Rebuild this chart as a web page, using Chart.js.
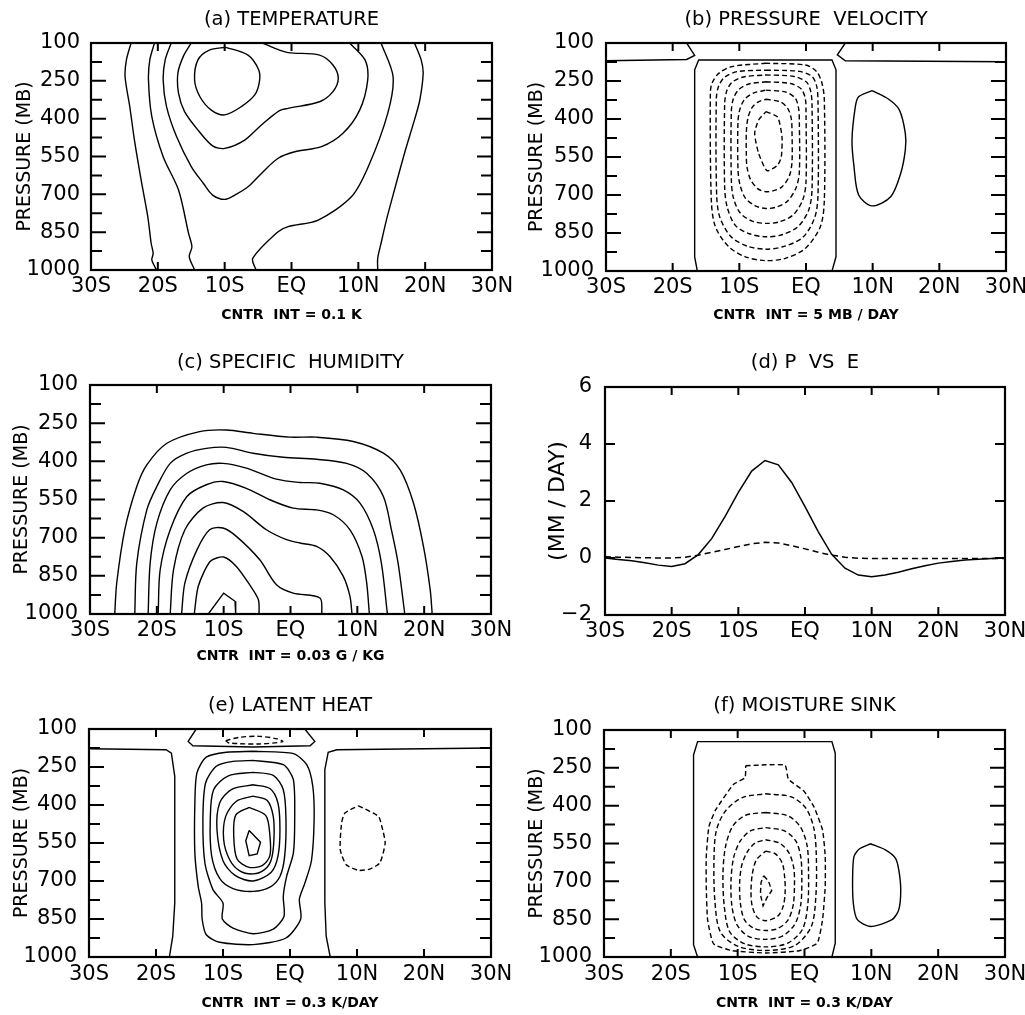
<!DOCTYPE html>
<html>
<head>
<meta charset="utf-8">
<title>Response to tropical heating</title>
<script src="https://cdn.jsdelivr.net/npm/chart.js@4.4.1/dist/chart.umd.min.js"></script>
<style>
    html, body { margin: 0; padding: 0; background: #fff; }
    #page { position: relative; width: 1025px; height: 1015px; background: #fff; overflow: hidden; }
    #page canvas { position: absolute; }
</style>
</head>
<body>
<div id="page">
    <canvas id="panelA" width="512" height="330" style="left:0;top:0"></canvas>
    <canvas id="panelB" width="513" height="330" style="left:512px;top:0"></canvas>
    <canvas id="panelC" width="512" height="340" style="left:0;top:330px"></canvas>
    <canvas id="panelD" width="513" height="340" style="left:512px;top:330px"></canvas>
    <canvas id="panelE" width="512" height="345" style="left:0;top:670px"></canvas>
    <canvas id="panelF" width="513" height="345" style="left:512px;top:670px"></canvas>
</div>
<script>
// ---- axes ----
const latTicks = [-30, -20, -10, 0, 10, 20, 30];
const latLabels = ['30S', '20S', '10S', 'EQ', '10N', '20N', '30N'];
const pressureTicks = [100, 250, 400, 550, 700, 850, 1000];
const pressureLabels = ['100', '250', '400', '550', '700', '850', '1000'];
const pressureMinor = [175, 325, 475, 625, 775, 925];
const peTicks = [-2, 0, 2, 4, 6];
const peLabels = ['\u22122', '0', '2', '4', '6'];

// ---- (a) temperature, contours as [lat, pressure] ----
const tempC1 = [[-24.0,100],[-24.7,167],[-24.9,234],[-24.2,352],[-23.5,485],[-22.5,643],[-21.5,789],[-21.0,894],[-20.7,934],[-20.9,960],[-20.2,1000]];
const tempC2 = [[-20.5,100],[-21.2,167],[-21.4,247],[-20.9,392],[-19.2,551],[-16.9,683],[-15.4,855],[-14.9,908],[-15.3,947],[-14.5,1000]];
const tempC3 = [[-18.0,100],[-18.9,167],[-19.2,247],[-18.7,352],[-17.2,471],[-15.0,590],[-13.2,656],[-11.8,703],[-10.0,720],[-8.5,703],[-6.5,670],[-4.5,617],[-2.0,557],[0.5,531],[4.5,511],[7.7,458],[10.2,366],[11.4,247],[11.0,167],[8.7,100]];
const tempC4 = [[-15.0,100],[-16.2,154],[-17.0,220],[-16.9,300],[-16.0,372],[-14.0,445],[-11.8,508],[-10.0,518],[-7.0,485],[-4.5,425],[-1.8,368],[-0.5,359],[4.2,333],[6.2,293],[7.0,240],[6.2,187],[4.2,148],[-0.5,138],[-2.5,121],[-4.3,100]];
const tempC5 = [[-9.8,117],[-6.5,148],[-4.9,207],[-4.8,253],[-5.5,306],[-7.5,352],[-10.0,385],[-12.0,366],[-13.7,313],[-14.5,247],[-14.0,167],[-12.3,128],[-9.8,117]];
const tempC6 = [[13.4,100],[15.2,234],[14.4,379],[11.5,590],[9.0,709],[4.0,802],[-0.5,828],[-2.0,848],[-5.8,954],[-5.3,1000]];
const tempC7 = [[18.4,100],[19.4,167],[19.7,220],[19.2,326],[18.4,405],[16.9,538],[15.4,683],[14.2,802],[13.4,894],[12.9,954],[12.9,1000]];

// ---- (b) pressure velocity ----
const omegaLeft = [[-30,170],[-17.9,165],[-16.7,149],[-17.9,100]];
const omegaRight = [[5.9,100],[4.7,147],[5.9,170],[30,174]];
const omegaBox = [[-16.3,1000],[-16.7,944],[-16.7,206],[-16.1,167],[3.9,167],[4.5,206],[4.5,944],[3.9,1000]];
const omegaUp = [[9.9,288],[12.4,322],[14.0,364],[14.9,457],[14.9,522],[14.2,615],[12.7,707],[9.9,743],[7.9,700],[7.2,588],[6.9,483],[7.4,351],[7.9,312],[9.9,288]];
const omegaDown1 = [[-6.1,180],[-0.1,187],[1.6,213],[2.4,259],[2.75,325],[2.75,720],[2.15,825],[-0.1,911],[-3.1,950],[-6.1,959],[-9.1,944],[-11.6,904],[-13.6,825],[-14.2,720],[-14.35,299],[-14.1,259],[-13.1,220],[-11.1,193],[-6.1,180]];
const omegaDown2 = [[-6,207],[-1,212],[0.9,232],[1.6,270],[1.8,330],[1.8,700],[1.3,790],[-0.5,868],[-3.3,903],[-6,914],[-8.8,902],[-11.2,866],[-12.9,790],[-13.4,700],[-13.45,320],[-13.1,270],[-12.2,235],[-10.3,213],[-6,207]];
const omegaDown3 = [[-6,226],[-1.8,232],[0.1,255],[0.7,290],[0.9,340],[0.9,680],[0.4,760],[-1.2,825],[-3.6,857],[-6,865],[-8.5,853],[-10.6,820],[-11.8,750],[-12.2,670],[-12.2,340],[-11.9,290],[-11.1,255],[-9.4,234],[-6,226]];
const omegaDown4 = [[-6,253],[-2.3,260],[-0.7,282],[-0.1,320],[0,370],[0,650],[-0.5,720],[-1.9,778],[-4,806],[-6,812],[-8.1,803],[-9.9,770],[-10.9,710],[-11.2,640],[-11.2,370],[-10.9,320],[-10.1,284],[-8.6,262],[-6,253]];
const omegaDown5 = [[-6,286],[-3,294],[-1.6,318],[-1.1,360],[-1,410],[-1,610],[-1.5,672],[-2.8,725],[-4.5,748],[-6,753],[-7.6,743],[-9.1,712],[-9.9,660],[-10.2,600],[-10.2,410],[-9.9,360],[-9.2,322],[-7.9,298],[-6,286]];
const omegaDown6 = [[-6,322],[-3.8,333],[-2.7,360],[-2.2,400],[-2.1,450],[-2.1,570],[-2.5,625],[-3.6,668],[-5,684],[-6,687],[-7.2,676],[-8.3,640],[-8.85,590],[-8.95,540],[-8.95,450],[-8.7,395],[-8.1,355],[-7.2,333],[-6,322]];
const omegaDown7 = [[-6,371],[-4.25,393],[-3.6,470],[-3.7,549],[-4.25,582],[-5.85,604],[-7.1,536],[-7.7,457],[-7.1,404],[-6,371]];

// ---- (c) specific humidity ----
const qC1 = [[-26.3,1000],[-26.0,878],[-24.8,669],[-23.0,499],[-21.5,414],[-18.5,329],[-13.6,283],[-9.6,277],[-5.6,290],[-0.1,305],[3.9,305],[9.4,322],[13.9,368],[16.4,434],[18.4,564],[19.9,735],[20.9,904],[21.2,1000]];
const qC2 = [[-23.3,1000],[-23.0,800],[-21.5,591],[-20.0,499],[-18.0,408],[-15.5,368],[-12.6,349],[-9.6,345],[-5.6,368],[-1.1,384],[3.9,392],[8.4,408],[11.4,447],[13.9,538],[15.1,669],[16.1,800],[17.1,1000]];
const qC3 = [[-21.3,1000],[-21.0,800],[-20.0,643],[-18.0,512],[-15.5,447],[-12.6,414],[-10.1,408],[-6.6,427],[-2.1,470],[1.4,483],[4.4,486],[7.9,512],[10.4,564],[12.4,669],[13.6,800],[14.5,1000]];
const qC4 = [[-19.8,1000],[-19.5,826],[-18.0,669],[-15.5,538],[-12.6,492],[-10.1,479],[-6.6,506],[-3.1,551],[0.4,584],[3.9,591],[6.4,610],[8.9,669],[10.7,774],[11.4,878],[11.8,1000]];
const qC5 = [[-18.0,1000],[-17.5,826],[-15.8,669],[-13.1,584],[-10.1,562],[-7.1,597],[-3.6,669],[-0.6,708],[1.4,721],[3.9,734],[5.9,774],[7.9,852],[8.9,931],[9.2,1000]];
const qC6 = [[-16.3,1000],[-15.8,878],[-14.0,748],[-12.1,669],[-10.1,662],[-8.1,695],[-4.6,787],[-2.1,885],[0.4,918],[4.4,937],[4.7,1000]];
const qC7 = [[-14.4,1000],[-13.8,891],[-12.0,793],[-10.0,776],[-8.1,813],[-6.3,878],[-4.8,944],[-4.7,1000]];
const qC8 = [[-12.3,1000],[-10.0,918],[-8.3,950],[-8.2,1000]];

// ---- (d) P vs E, mm/day every 2 degrees ----
const peLats = [-30,-28,-26,-24,-22,-20,-18,-16,-14,-12,-10,-8,-6,-4,-2,0,2,4,6,8,10,12,14,16,18,20,22,24,26,28,30];
const precip = [0.0,-0.05,-0.1,-0.17,-0.25,-0.3,-0.2,0.12,0.68,1.45,2.3,3.05,3.42,3.27,2.65,1.8,0.92,0.13,-0.36,-0.6,-0.66,-0.6,-0.5,-0.38,-0.27,-0.18,-0.12,-0.07,-0.04,-0.02,0.0];
const evap = [0.04,0.03,0.02,0.01,0.0,0.0,0.03,0.1,0.2,0.3,0.4,0.5,0.55,0.53,0.43,0.32,0.2,0.1,0.03,-0.01,-0.02,-0.02,-0.02,-0.02,-0.02,-0.02,-0.02,-0.02,-0.02,-0.02,-0.02];

// ---- (e) latent heat ----
const heatLeft = [[-30,178],[-18.5,182],[-17.7,195],[-17.2,287],[-17.2,787],[-17.5,918],[-18,1000]];
const heatRight = [[6,1000],[5.4,918],[5.2,787],[5.2,260],[5.7,192],[7,182],[30,175]];
const heatTop = [[-14,100],[-15.2,149],[-14.5,166],[-5.5,171],[3,166],[3.7,149],[2.2,100]];
const heatTopCool = [[-9.6,146],[-7.6,133],[-4.6,129],[-1.9,139],[-1.1,150],[-4.6,159],[-9.1,155],[-9.6,146]];
const heatRing1 = [[-5.5,188],[0.5,197],[2.5,241],[3.4,326],[3.6,458],[3.2,620],[2.2,710],[1.4,771],[1.6,850],[-0.6,925],[-5.5,951],[-10.5,942],[-12.5,912],[-13.1,853],[-13.2,787],[-13.7,721],[-14.2,590],[-14.2,392],[-13.9,274],[-12.5,211],[-9.5,192],[-5.5,188]];
const heatRing2 = [[-5.5,224],[-1,241],[0.5,300],[0.7,458],[0.5,590],[-0.5,682],[-1,760],[-0.9,840],[-2.5,890],[-5.5,908],[-8.5,886],[-10.1,850],[-10,787],[-11.5,734],[-12.7,629],[-13,458],[-12.6,313],[-11,247],[-8.5,228],[-5.5,224]];
const heatRing3 = [[-5.5,271],[-2.5,283],[-1,340],[-0.6,458],[-0.8,603],[-1.5,682],[-3,724],[-5.5,741],[-8.5,730],[-10.5,690],[-11.7,600],[-11.9,458],[-11.4,340],[-9.2,285],[-5.5,271]];
const heatRing4 = [[-5.5,320],[-3,335],[-1.8,392],[-1.5,497],[-1.8,603],[-2.8,665],[-5.5,700],[-8.2,678],[-10,620],[-10.9,497],[-10.5,392],[-8.7,338],[-5.5,320]];
const heatRing5 = [[-5.5,365],[-3.4,382],[-2.5,445],[-2.4,537],[-2.8,616],[-3.8,655],[-5.5,672],[-7.5,660],[-9,616],[-9.9,537],[-9.6,445],[-8,385],[-5.5,365]];
const heatRing6 = [[-6.1,409],[-3.6,442],[-3,521],[-3,600],[-4.1,638],[-6.1,646],[-7.9,613],[-8.4,521],[-8.1,440],[-6.1,409]];
const heatCore = [[-6.1,501],[-4.4,547],[-4.9,593],[-6.1,600],[-6.6,541],[-6.1,501]];
const heatCool = [[10.2,403],[13.2,445],[13.7,484],[14.2,550],[13.4,629],[11.9,653],[10.2,658],[8.4,636],[7.5,576],[7.7,471],[8.2,432],[10.2,403]];

// ---- (f) moisture sink ----
const sinkBox = [[-16,1000],[-16.6,951],[-16.6,199],[-16,146],[4.1,146],[4.6,192],[4.6,945],[4.1,1000]];
const sinkWet = [[9.9,551],[12.1,575],[13.6,608],[14.1,654],[14.4,733],[14.1,813],[13.1,852],[9.9,879],[7.9,852],[7.3,786],[7.2,681],[7.4,602],[8.2,572],[9.9,551]];
const sinkRing1 = [[-8.8,242],[-5.8,238],[-2.9,240],[-2.4,295],[-0.1,342],[1.4,404],[2.7,496],[3.1,602],[3.1,720],[2.7,852],[1.9,945],[-0.8,975],[-5.8,984],[-10.8,975],[-13.6,948],[-14.5,852],[-14.7,720],[-14.7,602],[-14.3,483],[-13.3,417],[-10.6,315],[-8.9,289],[-8.8,242]];
const sinkRing2 = [[-5.8,353],[-2,365],[0.2,410],[1.4,490],[1.77,600],[1.7,760],[1.0,880],[-1.5,955],[-5.8,974],[-10,957],[-12.6,900],[-13.4,780],[-13.55,620],[-13.2,500],[-11.8,420],[-9.3,368],[-5.8,353]];
const sinkRing3 = [[-5.8,427],[-2.5,440],[-0.6,485],[0.4,560],[0.6,660],[0.5,790],[-0.3,890],[-2.5,945],[-5.8,960],[-9,947],[-11.2,900],[-12,800],[-12.2,670],[-11.8,560],[-10.7,480],[-8.8,438],[-5.8,427]];
const sinkRing4 = [[-5.8,487],[-3,500],[-1.3,540],[-0.55,605],[-0.4,690],[-0.55,790],[-1.4,868],[-3.3,917],[-5.8,930],[-8.4,918],[-10.1,872],[-10.85,800],[-11,700],[-10.6,605],[-9.6,540],[-8.1,500],[-5.8,487]];
const sinkRing5 = [[-5.8,535],[-3.7,549],[-2.3,588],[-1.6,648],[-1.5,715],[-1.7,795],[-2.5,855],[-4,887],[-5.8,895],[-7.6,886],[-9,852],[-9.6,785],[-9.7,705],[-9.4,638],[-8.6,585],[-7.4,548],[-5.8,535]];
const sinkRing6 = [[-5.8,580],[-4.3,592],[-3.3,630],[-2.95,690],[-2.9,745],[-3.2,800],[-4,838],[-5.8,856],[-7.1,842],[-7.85,795],[-8,735],[-7.8,670],[-7.2,615],[-5.8,580]];
const sinkCore = [[-6.1,678],[-5.4,698],[-4.9,737],[-5.6,764],[-6.2,797],[-6.6,751],[-6.5,704],[-6.1,678]];

const FONT = 'DejaVu Sans';
Chart.defaults.font.family = FONT;
Chart.defaults.color = '#000';

// Frame plus inward tick marks, GrADS style
const frameTicks = {
    id: 'frameTicks',
    afterDatasetsDraw(chart, args, opts) {
        const { ctx, chartArea: a, scales: { x, y } } = chart;
        ctx.save();
        ctx.strokeStyle = '#000';
        ctx.lineWidth = 2;
        ctx.beginPath();
        opts.xMarks.forEach(v => {
            const px = x.getPixelForValue(v);
            ctx.moveTo(px, a.bottom); ctx.lineTo(px, a.bottom - opts.xLen);
            ctx.moveTo(px, a.top); ctx.lineTo(px, a.top + opts.xLen);
        });
        opts.yMajor.forEach(v => {
            const py = y.getPixelForValue(v);
            ctx.moveTo(a.left, py); ctx.lineTo(a.left + opts.majorLen, py);
            ctx.moveTo(a.right, py); ctx.lineTo(a.right - opts.majorLen, py);
        });
        opts.yMinor.forEach(v => {
            const py = y.getPixelForValue(v);
            ctx.moveTo(a.left, py); ctx.lineTo(a.left + opts.minorLen, py);
            ctx.moveTo(a.right, py); ctx.lineTo(a.right - opts.minorLen, py);
        });
        ctx.stroke();
        ctx.lineWidth = 2.2;
        ctx.strokeRect(a.left, a.top, a.right - a.left, a.bottom - a.top);
        ctx.restore();
    }
};

function contour(points, dashed, tension) {
    return {
        data: points.map(([lat, p]) => ({ x: lat, y: p })),
        showLine: true,
        pointRadius: 0,
        pointHoverRadius: 0,
        borderColor: '#000',
        borderWidth: 1.4,
        borderDash: dashed ? [5, 3] : [],
        tension: tension,
        fill: false
    };
}

function series(values, dashed) {
    return {
        data: peLats.map((lat, i) => ({ x: lat, y: values[i] })),
        showLine: true,
        pointRadius: 0,
        borderColor: '#000',
        borderWidth: 1.5,
        borderDash: dashed ? [6, 4] : [],
        tension: 0,
        fill: false
    };
}

// One panel; L holds the layout numbers that pin the plot area
function makePanel(id, L, spec) {
    return new Chart(document.getElementById(id), {
        type: 'scatter',
        data: { datasets: spec.datasets },
        plugins: [frameTicks],
        options: {
            responsive: false,
            animation: false,
            events: [],
            layout: { padding: { left: 0, top: 0, right: L.padRight, bottom: L.padBottom || 0 } },
            plugins: {
                legend: { display: false },
                tooltip: { enabled: false },
                title: {
                    display: true, text: spec.title, color: '#000', fullSize: false,
                    font: { family: FONT, size: 19.5, weight: 'normal', lineHeight: 1.2 },
                    padding: { top: L.titleTop, bottom: L.titleBottom }
                },
                subtitle: {
                    display: !!spec.note, text: spec.note || '', position: 'bottom', color: '#000', fullSize: false,
                    font: { family: FONT, size: 14, weight: 'bold', lineHeight: 1.2 },
                    padding: { top: L.noteTop || 0, bottom: L.noteBottom || 0 }
                },
                frameTicks: {
                    xMarks: latTicks.slice(1, -1),
                    yMajor: spec.yTicks.slice(1, -1),
                    yMinor: spec.yMinor,
                    xLen: 8,
                    majorLen: spec.majorLen,
                    minorLen: 11
                }
            },
            scales: {
                x: {
                    type: 'linear', min: -30, max: 30,
                    afterBuildTicks: s => { s.ticks = latTicks.map(v => ({ value: v })); },
                    afterFit: s => { s.height = 30; s.paddingLeft = 0; s.paddingRight = 0; },
                    grid: { display: false, drawTicks: false },
                    border: { display: false },
                    ticks: {
                        color: '#000', padding: L.xTickPad, maxRotation: 0, autoSkip: false,
                        font: { family: FONT, size: 21 },
                        callback: (v, i) => latLabels[i]
                    }
                },
                y: {
                    type: 'linear', min: spec.yMin, max: spec.yMax, reverse: spec.reverse,
                    afterBuildTicks: s => { s.ticks = spec.yTicks.map(v => ({ value: v })); },
                    afterFit: s => { s.width = L.yWidth; s.paddingTop = 0; s.paddingBottom = 0; },
                    grid: { display: false, drawTicks: false },
                    border: { display: false },
                    ticks: {
                        color: '#000', padding: L.yTickPad, autoSkip: false,
                        font: { family: FONT, size: 21 },
                        callback: (v, i) => spec.yLabels[i]
                    },
                    title: {
                        display: true, text: spec.yTitle, color: '#000',
                        font: { family: FONT, size: spec.yTitleSize || 19, lineHeight: 1.2 },
                        padding: { top: L.yTitlePad, bottom: 0 }
                    }
                }
            }
        }
    });
}

function pressureSpec(title, note, datasets) {
    return {
        title, note, datasets,
        yMin: 100, yMax: 1000, reverse: true,
        yTicks: pressureTicks, yLabels: pressureLabels, yMinor: pressureMinor,
        yTitle: 'PRESSURE (MB)', majorLen: 15
    };
}

makePanel('panelA',
    { padRight: 20, yWidth: 91, yTickPad: 11, yTitlePad: 13.6, titleTop: 8.3, titleBottom: 11.3, xTickPad: 4.4, noteTop: 6.6, noteBottom: 6.6 },
    pressureSpec('(a) TEMPERATURE', 'CNTR  INT = 0.1 K', [
        contour(tempC1, false, 0.3), contour(tempC2, false, 0.3), contour(tempC3, false, 0.3),
        contour(tempC4, false, 0.3), contour(tempC5, false, 0.3), contour(tempC6, false, 0.3),
        contour(tempC7, false, 0.3)
    ]));

makePanel('panelB',
    { padRight: 19, yWidth: 94, yTickPad: 12, yTitlePad: 13.6, titleTop: 8.3, titleBottom: 11.3, xTickPad: 4.4, noteTop: 5.6, noteBottom: 6.6 },
    pressureSpec('(b) PRESSURE  VELOCITY', 'CNTR  INT = 5 MB / DAY', [
        contour(omegaLeft, false, 0), contour(omegaRight, false, 0), contour(omegaBox, false, 0),
        contour(omegaUp, false, 0.3),
        contour(omegaDown1, true, 0.3), contour(omegaDown2, true, 0.3), contour(omegaDown3, true, 0.3),
        contour(omegaDown4, true, 0.3), contour(omegaDown5, true, 0.3), contour(omegaDown6, true, 0.3),
        contour(omegaDown7, true, 0.2)
    ]));

makePanel('panelC',
    { padRight: 21, yWidth: 90, yTickPad: 12, yTitlePad: 10.3, titleTop: 21.6, titleBottom: 10, xTickPad: 4.4, noteTop: 3.6, noteBottom: 5.6 },
    pressureSpec('(c) SPECIFIC  HUMIDITY', 'CNTR  INT = 0.03 G / KG', [
        contour(qC1, false, 0.3), contour(qC2, false, 0.3), contour(qC3, false, 0.3), contour(qC4, false, 0.3),
        contour(qC5, false, 0.3), contour(qC6, false, 0.3), contour(qC7, false, 0.25), contour(qC8, false, 0)
    ]));

makePanel('panelD',
    { padRight: 20, padBottom: 25, yWidth: 93, yTickPad: 13, yTitlePad: 33.5, titleTop: 21.6, titleBottom: 12, xTickPad: 4.4 },
    {
        title: '(d) P  VS  E', note: '', datasets: [series(precip, false), series(evap, true)],
        yMin: -2, yMax: 6, reverse: false,
        yTicks: peTicks, yLabels: peLabels, yMinor: [],
        yTitle: '(MM / DAY)', yTitleSize: 22, majorLen: 10
    });

makePanel('panelE',
    { padRight: 21, yWidth: 89, yTickPad: 12, yTitlePad: 10.3, titleTop: 24.3, titleBottom: 11.3, xTickPad: 5.4, noteTop: 8, noteBottom: 3.2 },
    pressureSpec('(e) LATENT HEAT', 'CNTR  INT = 0.3 K/DAY', [
        contour(heatLeft, false, 0), contour(heatRight, false, 0), contour(heatTop, false, 0),
        contour(heatTopCool, true, 0.3),
        contour(heatRing1, false, 0.25), contour(heatRing2, false, 0.25), contour(heatRing3, false, 0.3),
        contour(heatRing4, false, 0.3), contour(heatRing5, false, 0.3), contour(heatRing6, false, 0.3),
        contour(heatCore, false, 0), contour(heatCool, true, 0.2)
    ]));

makePanel('panelF',
    { padRight: 20, yWidth: 92, yTickPad: 12, yTitlePad: 13.6, titleTop: 24.3, titleBottom: 12.3, xTickPad: 5.4, noteTop: 8, noteBottom: 3.2 },
    pressureSpec('(f) MOISTURE SINK', 'CNTR  INT = 0.3 K/DAY', [
        contour(sinkBox, false, 0), contour(sinkWet, false, 0.25),
        contour(sinkRing1, true, 0.15), contour(sinkRing2, true, 0.3), contour(sinkRing3, true, 0.3),
        contour(sinkRing4, true, 0.3), contour(sinkRing5, true, 0.3), contour(sinkRing6, true, 0.3),
        contour(sinkCore, true, 0)
    ]));
</script>
</body>
</html>
